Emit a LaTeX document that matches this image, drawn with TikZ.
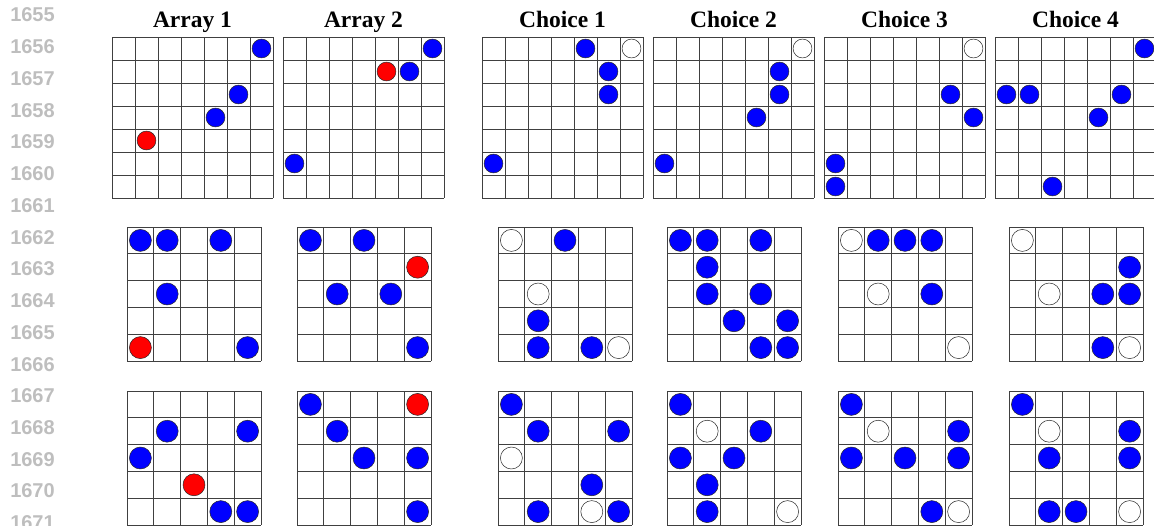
\documentclass[tikz,border=0pt]{standalone}
\usepackage{fontspec}
\setmainfont{Liberation Serif}
\newfontfamily\numfont{Liberation Sans}
\usepackage{xcolor}
\definecolor{linenum}{RGB}{190,190,190}
\definecolor{pieceblue}{RGB}{0,0,255}
\definecolor{piecered}{RGB}{255,0,0}

\tikzset{
  gridline/.style={draw=black!75,line width=0.8pt},
  dot/.style={draw=black!85,line width=0.5pt,fill=#1},
  title/.style={font=\fontsize{23.5}{28}\selectfont\bfseries,inner sep=0pt},
  lnum/.style={font=\numfont\fontsize{20}{24}\selectfont\bfseries,text=linenum,inner sep=0pt}
}

% #1 left, #2 top, #3 cells per side, #4 cell size, #5 pieces col/row/colour
\newcommand{\drawboard}[5]{%
  \begin{scope}[shift={(#1,#2)}]
    \fill[white] (0,0) rectangle (#3*#4,#3*#4);
    \foreach \gi in {0,...,#3}{
      \draw[gridline] (\gi*#4,0) -- (\gi*#4,#3*#4);
      \draw[gridline] (0,\gi*#4) -- (#3*#4,\gi*#4);
    }
    \foreach \px/\py/\ps in {#5}
      \draw[dot=\ps] ({(\px+0.5)*#4},{(\py+0.5)*#4}) circle[radius=0.41*#4];
  \end{scope}}

\begin{document}
\begin{tikzpicture}[x=1pt,y=-1pt]
\useasboundingbox (0,0) rectangle (1154,525);

% line numbers
\foreach \n in {1655,...,1671}
  \node[lnum] (ln\n) at (32.5,{15+31.74*(\n-1655)}) {\n};

% titles
\node[title,anchor=base] (tA1) at (192.5,27) {Array 1};
\node[title,anchor=base] (tA2) at (363.5,27) {Array 2};
\node[title,anchor=base] (tC1) at (562.5,27) {Choice 1};
\node[title,anchor=base] (tC2) at (733.5,27) {Choice 2};
\node[title,anchor=base] (tC3) at (904.5,27) {Choice 3};
\node[title,anchor=base] (tC4) at (1075.5,27) {Choice 4};

% first problem, 7x7
\drawboard{112}{37}{7}{23}{6/0/pieceblue,5/2/pieceblue,4/3/pieceblue,1/4/piecered}
\drawboard{283}{37}{7}{23}{6/0/pieceblue,4/1/piecered,5/1/pieceblue,0/5/pieceblue}
\drawboard{482}{37}{7}{23}{4/0/pieceblue,6/0/white,5/1/pieceblue,5/2/pieceblue,0/5/pieceblue}
\drawboard{653}{37}{7}{23}{6/0/white,5/1/pieceblue,5/2/pieceblue,4/3/pieceblue,0/5/pieceblue}
\drawboard{824}{37}{7}{23}{6/0/white,5/2/pieceblue,6/3/pieceblue,0/5/pieceblue,0/6/pieceblue}
\drawboard{995}{37}{7}{23}{6/0/pieceblue,0/2/pieceblue,1/2/pieceblue,5/2/pieceblue,4/3/pieceblue,2/6/pieceblue}

% second problem, 5x5
\drawboard{127}{227}{5}{26.8}{0/0/pieceblue,1/0/pieceblue,3/0/pieceblue,1/2/pieceblue,0/4/piecered,4/4/pieceblue}
\drawboard{297}{227}{5}{26.8}{0/0/pieceblue,2/0/pieceblue,4/1/piecered,1/2/pieceblue,3/2/pieceblue,4/4/pieceblue}
\drawboard{498}{227}{5}{26.8}{0/0/white,2/0/pieceblue,1/2/white,1/3/pieceblue,1/4/pieceblue,3/4/pieceblue,4/4/white}
\drawboard{667}{227}{5}{26.8}{0/0/pieceblue,1/0/pieceblue,3/0/pieceblue,1/1/pieceblue,1/2/pieceblue,3/2/pieceblue,2/3/pieceblue,4/3/pieceblue,3/4/pieceblue,4/4/pieceblue}
\drawboard{838}{227}{5}{26.8}{0/0/white,1/0/pieceblue,2/0/pieceblue,3/0/pieceblue,1/2/white,3/2/pieceblue,4/4/white}
\drawboard{1009}{227}{5}{26.8}{0/0/white,4/1/pieceblue,1/2/white,3/2/pieceblue,4/2/pieceblue,3/4/pieceblue,4/4/white}

% third problem, 5x5
\drawboard{127}{391}{5}{26.8}{1/1/pieceblue,4/1/pieceblue,0/2/pieceblue,2/3/piecered,3/4/pieceblue,4/4/pieceblue}
\drawboard{297}{391}{5}{26.8}{0/0/pieceblue,4/0/piecered,1/1/pieceblue,2/2/pieceblue,4/2/pieceblue,4/4/pieceblue}
\drawboard{498}{391}{5}{26.8}{0/0/pieceblue,1/1/pieceblue,4/1/pieceblue,0/2/white,3/3/pieceblue,1/4/pieceblue,3/4/white,4/4/pieceblue}
\drawboard{667}{391}{5}{26.8}{0/0/pieceblue,1/1/white,3/1/pieceblue,0/2/pieceblue,2/2/pieceblue,1/3/pieceblue,1/4/pieceblue,4/4/white}
\drawboard{838}{391}{5}{26.8}{0/0/pieceblue,1/1/white,4/1/pieceblue,0/2/pieceblue,2/2/pieceblue,4/2/pieceblue,3/4/pieceblue,4/4/white}
\drawboard{1009}{391}{5}{26.8}{0/0/pieceblue,1/1/white,4/1/pieceblue,1/2/pieceblue,4/2/pieceblue,1/4/pieceblue,2/4/pieceblue,4/4/white}
\end{tikzpicture}
\end{document}
